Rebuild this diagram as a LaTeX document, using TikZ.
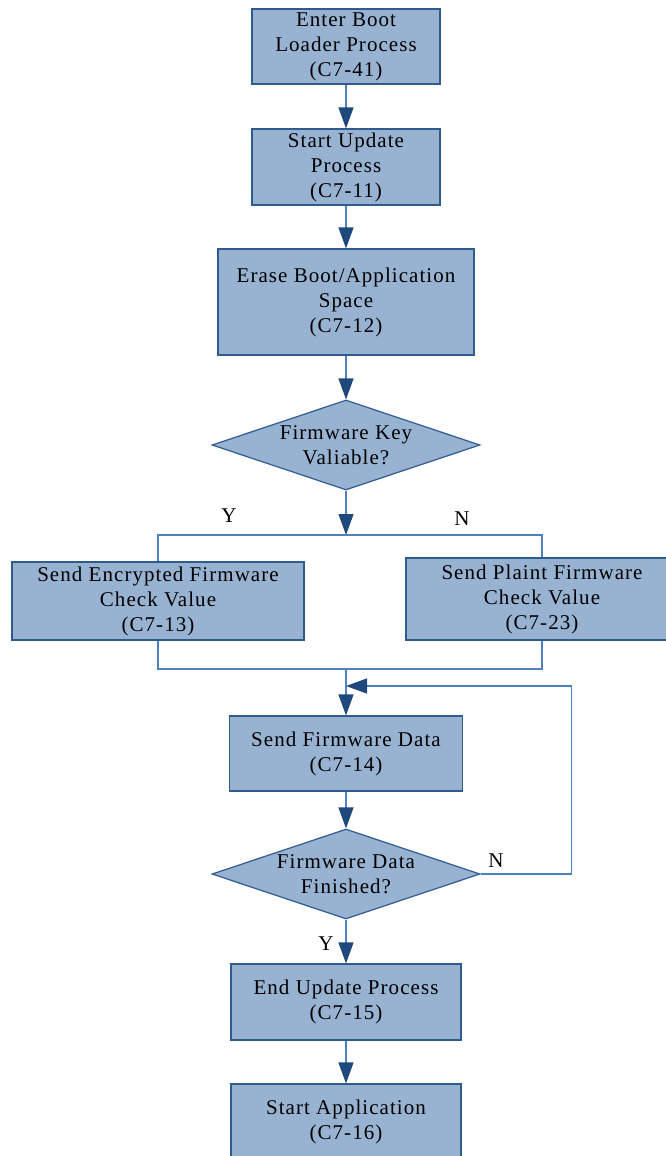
\documentclass[tikz,border=0pt]{standalone}
\usepackage{fontspec}
\setmainfont[LetterSpace=5]{Liberation Serif}
\usetikzlibrary{shapes.geometric,arrows.meta}
\definecolor{boxfill}{RGB}{152,178,210}
\definecolor{boxline}{RGB}{47,91,143}
\definecolor{flowline}{RGB}{79,129,189}
\definecolor{tipblue}{RGB}{31,73,125}

\begin{document}
\begin{tikzpicture}[x=1pt, y=-1pt, node distance=120pt,
        main/.style = {draw=boxline, fill=boxfill, line width=1.2pt, align=center, inner sep=0pt, font=\fontsize{21}{25}\selectfont},
        decision/.style = {diamond, draw=boxline, fill=boxfill, line width=1.2pt, minimum width=268pt, minimum height=90pt, inner sep=0pt},
        lbl/.style = {font=\fontsize{21}{25}\selectfont, align=center},
        flow/.style = {draw=flowline, line width=1.2pt},
        flowarrow/.style = {flow, -{Triangle[length=21pt, width=15pt, color=tipblue]}}]
            \useasboundingbox (0,0) rectangle (666,1156);

            \node[main, minimum width=188pt, minimum height=75pt] (1) at (346,46.5)  {Enter Boot\\Loader Process\\(C7-41)};
            \node[main, minimum width=188pt, minimum height=76pt] (2) [below of=1, node distance=120.5pt] {Start Update\\Process\\(C7-11)};
            \node[main, minimum width=256pt, minimum height=106pt] (3) [below of=2, node distance=135pt] {Erase Boot/Application\\Space\\(C7-12)};
            \node[decision, label={[lbl]center:Firmware Key\\Valiable?}] (4) [below of=3, node distance=143pt] {};

            \coordinate (split) at (346,535);
            \node[main, minimum width=292pt, minimum height=78pt] (5) at (158,601) {Send Encrypted Firmware\\Check Value\\(C7-13)};
            \node[main, minimum width=272pt, minimum height=82pt] (6) at (542,599) {Send Plaint Firmware\\Check Value\\(C7-23)};
            \coordinate (join) at (346,669);
            \coordinate (loopin) at (346,686);

            \node[main, minimum width=233pt, minimum height=75pt] (7) at (346,753.5) {Send Firmware Data\\(C7-14)};
            \node[decision, label={[lbl]center:Firmware Data\\Finished?}] (8) at (346,874) {};
            \node[main, minimum width=230pt, minimum height=76pt] (9) at (346,1002) {End Update Process\\(C7-15)};
            \node[main, minimum width=230pt, minimum height=75pt] (10) [below of=9, node distance=119.5pt] {Start Application\\(C7-16)};

            \node[lbl] (yes1) at (229,516) {Y};
            \node[lbl] (no1)  at (462,519) {N};
            \node[lbl] (no2)  at (496,861) {N};
            \node[lbl] (yes2) at (326,944) {Y};

            \draw[flowarrow] (1) -- (2);
            \draw[flowarrow] (2) -- (3);
            \draw[flowarrow] (3) -- (4);
            \draw[flowarrow] (4) -- (split);
            \draw[flow] (5.north) |- (split) -| (6.north);
            \draw[flow] (5.south) |- (join) -| (6.south);
            \draw[flowarrow] (join) -- (7);
            \draw[flowarrow] (7) -- (8);
            \draw[flowarrow] (8.east) -- ++(91,0) |- (loopin);
            \draw[flowarrow] (8) -- (9);
            \draw[flowarrow] (9) -- (10);
        \end{tikzpicture}
\end{document}
